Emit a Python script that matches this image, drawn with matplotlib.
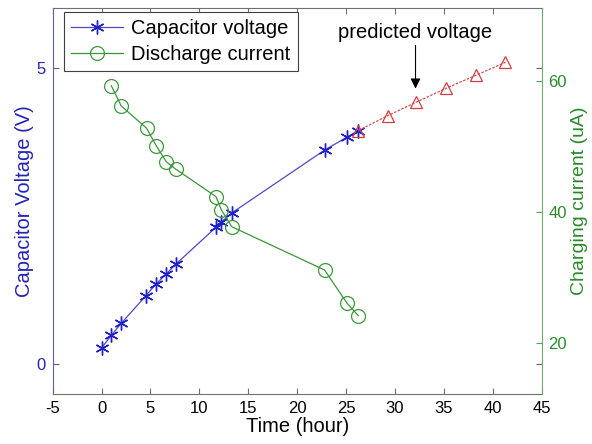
import matplotlib
matplotlib.use('Agg')
import matplotlib.pyplot as plt

plt.rcParams['font.family'] = ['Liberation Sans', 'DejaVu Sans']
plt.rcParams['axes.unicode_minus'] = False

# Data
time_h = [0, 1, 2, 4.55, 5.55, 6.6, 7.6, 11.7, 12.25, 13.3, 22.8, 25.1, 26.25]
voltage = [0.275, 0.49, 0.69, 1.16, 1.35, 1.52, 1.69, 2.31, 2.40, 2.55, 3.61, 3.83, 3.94]

current_time = [1, 2, 4.6, 5.6, 6.6, 7.6, 11.7, 12.25, 13.3, 22.8, 25.1, 26.25]
current = [59.2, 56.15, 52.75, 50.05, 47.66, 46.5, 42.33, 40.3, 37.76, 31.16, 26.09, 24.2]

pred_time = [26.25, 29.25, 32.2, 35.2, 38.25, 41.3]
pred_voltage = [3.94, 4.19, 4.42, 4.65, 4.87, 5.09]

x_ticks = [-5, 0, 5, 10, 15, 20, 25, 30, 35, 40, 45]
v_ticks = [0, 5]
i_ticks = [20, 40, 60]

blue = '#2323b8'
green = '#2a8a2a'
asterisk = (6, 2, 0)

fig = plt.figure(figsize=(5.92, 4.44), dpi=100)
ax = fig.add_axes([0.089, 0.1126, 0.826, 0.8687])
ax2 = ax.twinx()

# voltage (left axis)
l1, = ax.plot(time_h, voltage, '-', color='#4a4ac8', lw=0.9, marker=asterisk,
              markersize=10, markeredgecolor='#2020c8', markeredgewidth=1.0,
              label='Capacitor voltage')
ax.plot(pred_time, pred_voltage, color='#d84a4a', lw=0.9, ls=(0, (2, 1.2)),
        marker='^', markersize=8, markerfacecolor='none',
        markeredgecolor='#d04040', markeredgewidth=0.9)

# current (right axis)
l2, = ax2.plot(current_time, current, '-', color='#3a963a', lw=0.9, marker='o',
               markersize=10, markerfacecolor='none', markeredgecolor='#3a9a3a',
               markeredgewidth=0.9, label='Discharge current')

ax.set_xlim(-5, 45)
ax.set_ylim(-0.5, 6)
ax2.set_ylim(12.28, 71.0)
ax.set_xticks(x_ticks)
ax.set_yticks(v_ticks)
ax2.set_yticks(i_ticks)

ax.tick_params(direction='in', length=4, top=True, right=True, labelsize=12)
ax.tick_params(axis='y', colors='#5a5aa8', labelcolor=blue, pad=5)
ax.tick_params(axis='x', colors='#707070', labelcolor='black', pad=5)
ax2.tick_params(direction='in', length=4, labelsize=12, colors='#5aa05a',
                labelcolor=green, pad=5)

for s in ['top', 'bottom']:
    ax.spines[s].set_color('#707070')
ax.spines['left'].set_color('#6060a8')
ax.spines['right'].set_visible(False)
for s in ['left', 'top', 'bottom']:
    ax2.spines[s].set_visible(False)
ax2.spines['right'].set_color('#70a870')

ax.set_xlabel('Time (hour)', fontsize=14.5, labelpad=1)
ax.set_ylabel('Capacitor Voltage (V)', fontsize=14.5, color=blue, labelpad=2)
ax2.set_ylabel('Charging current (uA)', fontsize=14, color=green, labelpad=3)

ax.annotate('', xy=(32.1, 4.60), xytext=(32.1, 5.42),
            arrowprops=dict(arrowstyle='-|>', color='black', lw=0.8, mutation_scale=15))
ax.text(32.1, 5.60, 'predicted voltage', ha='center', va='center', fontsize=14.5)

leg = ax2.legend(handles=[l1, l2], loc='upper left', bbox_to_anchor=(0.023, 0.99),
                 borderaxespad=0, fontsize=14.5, fancybox=False, framealpha=1,
                 edgecolor='#404040', handlelength=2.6, labelspacing=0.35,
                 borderpad=0.35, handletextpad=0.4)
leg.get_frame().set_linewidth(0.8)

fig.savefig('out.png', dpi=100)
